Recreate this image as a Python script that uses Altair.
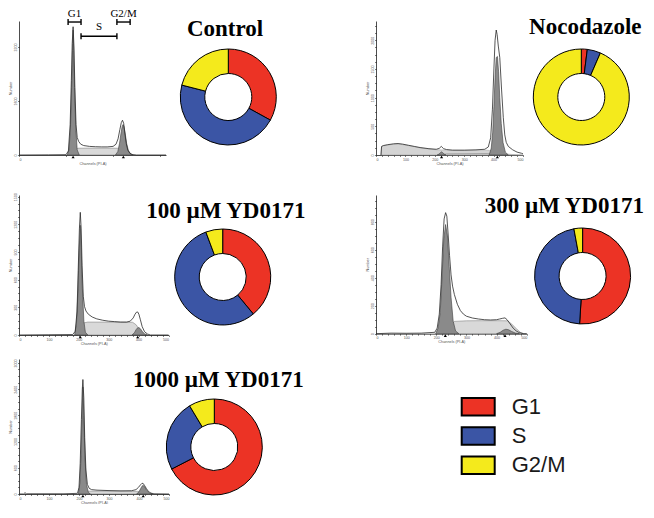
import altair as alt
import pandas as pd

# ---------------- data ----------------
PHASES = ["G1", "S", "G2/M"]
PHASE_COLORS = ["#EC3325", "#3B55A5", "#F4EA1C"]

TITLES = ["Control", "Nocodazole", "100 µM YD0171", "300 µM YD0171", "1000 µM YD0171"]

# cell-cycle distribution (%) G1, S, G2/M
PCT_CONTROL = [33.0, 46.0, 21.0]
PCT_NOCO = [2.0, 4.5, 93.5]
PCT_100 = [39.0, 55.3, 5.7]
PCT_300 = [51.0, 46.1, 2.9]
PCT_1000 = [67.4, 24.0, 8.6]

# Control histogram
ctrl_outline_ch = [0, 100, 160, 168, 174, 178, 181, 184, 187, 190, 194, 198, 203, 210, 220, 240, 260, 280, 300, 320, 330, 337, 343, 348, 352, 356, 360, 365, 370, 377, 385, 400, 500]
ctrl_outline_n = [0, 5, 10, 120, 900, 2200, 3300, 3800, 3200, 2000, 900, 520, 400, 320, 280, 255, 245, 240, 240, 255, 320, 480, 750, 960, 1030, 940, 650, 330, 150, 50, 15, 0, 0]
ctrl_g1_ch = [164, 170, 175, 179, 182, 184, 186, 189, 193, 198, 205]
ctrl_g1_n = [0, 150, 800, 2000, 3100, 3700, 3100, 2000, 800, 150, 0]
ctrl_s_ch = [182, 190, 200, 250, 300, 335, 345, 355, 362]
ctrl_s_n = [0, 120, 200, 205, 205, 200, 150, 40, 0]
ctrl_g2_ch = [328, 336, 342, 347, 351, 354, 357, 361, 366, 372, 380, 388]
ctrl_g2_n = [0, 100, 350, 650, 850, 900, 850, 650, 350, 130, 30, 0]
ctrl_marks = [184, 355]

# Nocodazole histogram
noc_outline_ch = [17, 19, 25, 40, 60, 75, 90, 110, 130, 150, 180, 205, 215, 222, 230, 240, 260, 300, 340, 370, 382, 390, 396, 401, 405, 409, 412, 416, 421, 427, 433, 438, 443, 450, 465, 480, 495, 500]
noc_outline_n = [0, 150, 165, 180, 195, 200, 190, 170, 150, 130, 110, 100, 115, 150, 110, 95, 85, 85, 90, 100, 140, 300, 800, 1500, 2000, 2180, 2100, 1900, 1700, 1150, 650, 350, 220, 150, 90, 50, 30, 20]
noc_debris_ch = [17, 19, 25, 40, 60, 75, 90, 110, 130, 150, 180, 205, 240, 260, 300, 340, 370, 385, 395, 410, 430, 460, 500]
noc_debris_n = [0, 145, 160, 175, 188, 192, 182, 165, 145, 125, 105, 92, 85, 80, 78, 80, 85, 80, 60, 40, 25, 10, 0]
noc_g1_ch = [208, 214, 219, 223, 227, 232, 238]
noc_g1_n = [0, 15, 40, 55, 40, 15, 0]
noc_s_ch = [222, 240, 300, 380, 400, 412]
noc_s_n = [0, 20, 22, 25, 15, 0]
noc_g2_ch = [385, 392, 397, 401, 405, 409, 413, 417, 421, 426, 432, 440, 450]
noc_g2_n = [0, 120, 400, 850, 1350, 1700, 1720, 1450, 1000, 550, 220, 50, 0]
noc_marks = [223, 413]

# 100 uM histogram
h100_outline_ch = [0, 100, 180, 188, 194, 198, 202, 205, 208, 211, 215, 219, 224, 232, 245, 260, 280, 300, 320, 340, 360, 372, 382, 388, 393, 397, 401, 406, 412, 420, 430, 440, 500]
h100_outline_n = [0, 3, 5, 40, 250, 700, 1150, 1330, 1150, 750, 420, 310, 260, 225, 195, 175, 160, 150, 145, 140, 140, 150, 185, 225, 248, 250, 225, 165, 90, 35, 10, 0, 0]
h100_g1_ch = [186, 192, 197, 201, 205, 208, 212, 217, 222, 230]
h100_g1_n = [0, 120, 450, 900, 1190, 950, 500, 150, 30, 0]
h100_s_ch = [198, 207, 215, 230, 300, 380, 392, 402, 412, 420]
h100_s_n = [0, 70, 130, 140, 140, 138, 110, 60, 15, 0]
h100_g2_ch = [378, 386, 392, 397, 401, 406, 412, 420, 430]
h100_g2_n = [0, 25, 60, 78, 80, 68, 40, 12, 0]
h100_marks = [205, 397]

# 300 uM histogram
h300_outline_ch = [0, 50, 100, 150, 195, 203, 210, 216, 221, 226, 231, 235, 239, 244, 249, 254, 260, 270, 280, 290, 300, 320, 340, 360, 380, 400, 410, 420, 428, 435, 445, 455, 465, 475, 490, 500]
h300_outline_n = [0, 4, 3, 4, 10, 40, 140, 350, 620, 820, 865, 840, 720, 560, 420, 340, 280, 210, 165, 140, 125, 112, 105, 100, 98, 100, 105, 110, 113, 100, 70, 40, 20, 8, 0, 0]
h300_g1_ch = [198, 206, 213, 219, 225, 231, 237, 243, 249, 256, 264, 275]
h300_g1_n = [0, 40, 150, 400, 680, 780, 700, 480, 260, 90, 20, 0]
h300_s_ch = [222, 235, 248, 260, 300, 350, 400, 437, 452, 466, 480, 490]
h300_s_n = [0, 25, 60, 88, 92, 93, 93, 92, 65, 35, 8, 0]
h300_g2_ch = [400, 412, 422, 431, 440, 450, 462, 476]
h300_g2_n = [0, 10, 25, 32, 28, 16, 5, 0]
h300_marks = [230, 428]

# 1000 uM histogram
h1k_outline_ch = [0, 15, 20, 25, 60, 150, 195, 200, 204, 208, 211, 213, 216, 219, 223, 228, 234, 242, 260, 300, 340, 375, 390, 398, 405, 410, 414, 419, 425, 432, 440, 450, 500]
h1k_outline_n = [0, 0, 30, 5, 5, 5, 15, 150, 700, 1700, 2400, 2620, 2200, 1300, 550, 220, 130, 100, 88, 78, 72, 75, 100, 150, 210, 245, 240, 190, 120, 55, 20, 5, 0]
h1k_g1_ch = [198, 203, 207, 210, 213, 216, 220, 225, 231, 238]
h1k_g1_n = [0, 250, 900, 1700, 2450, 1800, 800, 220, 40, 0]
h1k_s_ch = [205, 215, 225, 300, 395, 410, 425, 435]
h1k_s_n = [0, 40, 65, 65, 60, 40, 15, 0]
h1k_g2_ch = [392, 400, 406, 410, 414, 419, 426, 435, 445]
h1k_g2_n = [0, 50, 130, 180, 200, 160, 80, 20, 0]
h1k_marks = [213, 414]

# gate brackets drawn over the Control histogram
gate_names = ["G1", "S", "G2/M"]
gate_start = [167, 211, 333]
gate_end = [211, 333, 378]
gate_level = [3940, 3517, 3940]
gate_label_level = [4163, 3783, 4163]

# ---------------- helpers ----------------
LABEL_FONT = "Liberation Sans"


def df_of(ch, n):
    return pd.DataFrame({"ch": ch, "n": n})


def hist_chart(outline, g1, s, g2, marks, ymax, ystep, width, height, debris=None, gates=False):
    yt = ystep / 4
    yvals = [round(i * yt, 3) for i in range(int(ymax // yt) + 1)]
    xs = alt.Scale(domain=[0, 500], nice=False)
    ys = alt.Scale(domain=[0, ymax], nice=False)
    x_enc = alt.X("ch:Q", scale=xs,
                  axis=alt.Axis(values=list(range(0, 501, 20)),
                                labelExpr="datum.value % 100 === 0 ? datum.label : ''",
                                title="Channels (PI-A)", format="d"))
    y_enc = alt.Y("n:Q", stack=None, scale=ys,
                  axis=alt.Axis(values=yvals,
                                labelExpr="datum.value %% %d === 0 ? datum.label : ''" % ystep,
                                title="Number", format="d", labelAngle=270))
    layers = []
    if debris is not None:
        layers.append(alt.Chart(df_of(*debris)).mark_area(color="#d4d4d4", stroke="#9a9a9a", strokeWidth=0.5)
                      .encode(x=x_enc, y=y_enc))
    layers.append(alt.Chart(df_of(*s)).mark_area(color="#d9d9d9", stroke="#6e6e6e", strokeWidth=0.5)
                  .encode(x=x_enc, y=y_enc))
    layers.append(alt.Chart(df_of(*g1)).mark_area(color="#8a8a8a", stroke="#3c3c3c", strokeWidth=0.6)
                  .encode(x=x_enc, y=y_enc))
    layers.append(alt.Chart(df_of(*g2)).mark_area(color="#8a8a8a", stroke="#3c3c3c", strokeWidth=0.6)
                  .encode(x=x_enc, y=y_enc))
    layers.append(alt.Chart(df_of(*outline)).mark_line(color="#2a2a2a", strokeWidth=0.8)
                  .encode(x=x_enc, y=y_enc))
    layers.append(alt.Chart(pd.DataFrame({"ch": marks, "n": [0] * len(marks)}))
                  .mark_point(shape="triangle-up", filled=True, color="black", size=10, yOffset=2, opacity=1)
                  .encode(x=x_enc, y=y_enc))
    if gates:
        gdf = pd.DataFrame({"name": gate_names, "start": gate_start, "end": gate_end,
                            "level": gate_level, "lab": gate_label_level})
        gdf["mid"] = (gdf["start"] + gdf["end"]) / 2
        gdf["lo"] = gdf["level"] - 89
        gdf["hi"] = gdf["level"] + 89
        base = alt.Chart(gdf)
        layers.append(base.mark_rule(color="black", strokeWidth=1.4).encode(
            x=alt.X("start:Q", scale=xs), x2="end:Q", y=alt.Y("level:Q", scale=ys)))
        layers.append(base.mark_rule(color="black", strokeWidth=1.4).encode(
            x=alt.X("start:Q", scale=xs), y=alt.Y("lo:Q", scale=ys), y2="hi:Q"))
        layers.append(base.mark_rule(color="black", strokeWidth=1.4).encode(
            x=alt.X("end:Q", scale=xs), y=alt.Y("lo:Q", scale=ys), y2="hi:Q"))
        layers.append(base.mark_text(font="Liberation Serif", fontSize=11, baseline="middle", align="center",
                                     color="black").encode(
            x=alt.X("mid:Q", scale=xs), y=alt.Y("lab:Q", scale=ys), text="name:N"))
    return alt.layer(*layers).properties(width=width, height=height)


def donut_view(title, pct, cx, cy, tx, ty, width, height):
    df = pd.DataFrame({"phase": PHASES, "value": pct, "idx": [0, 1, 2]})
    arc = alt.Chart(df).mark_arc(innerRadius=23.5, outerRadius=48, stroke="black", strokeWidth=1).encode(
        theta=alt.Theta("value:Q", stack=True),
        color=alt.Color("phase:N", scale=alt.Scale(domain=PHASES, range=PHASE_COLORS), legend=None),
        order=alt.Order("idx:Q"),
        x=alt.value(cx), y=alt.value(cy))
    txt = alt.Chart(pd.DataFrame({"t": [title]})).mark_text(
        font="Liberation Serif", fontWeight="bold", fontSize=23, align="center", baseline="alphabetic",
        color="black").encode(text="t:N", x=alt.value(tx), y=alt.value(ty))
    return alt.layer(arc, txt).properties(width=width, height=height)


def legend_view(bx, ylo, yhi, width, height):
    ldf = pd.DataFrame({"phase": PHASES})
    yscale = alt.Scale(domain=PHASES, range=[ylo, yhi], paddingInner=0.4, paddingOuter=0)
    boxes = alt.Chart(ldf).mark_rect(stroke="black", strokeWidth=2).encode(
        y=alt.Y("phase:N", sort=PHASES, axis=None, scale=yscale),
        x=alt.value(bx), x2=alt.value(bx + 33),
        color=alt.Color("phase:N", scale=alt.Scale(domain=PHASES, range=PHASE_COLORS), legend=None))
    labels = alt.Chart(ldf).mark_text(align="left", baseline="middle", fontSize=22, font=LABEL_FONT,
                                      color="#1a1a1a").encode(
        y=alt.Y("phase:N", sort=PHASES, axis=None, scale=yscale),
        x=alt.value(bx + 50), text="phase:N")
    return alt.layer(boxes, labels).properties(width=width, height=height)


# ---------------- panels (grid: hist | donut | hist | donut) ----------------
W1, W3 = 207, 117
h1 = hist_chart((ctrl_outline_ch, ctrl_outline_n), (ctrl_g1_ch, ctrl_g1_n), (ctrl_s_ch, ctrl_s_n),
                (ctrl_g2_ch, ctrl_g2_n), ctrl_marks, 3970, 800, 147, 134, gates=True)
d1 = donut_view(TITLES[0], PCT_CONTROL, 59.3, 76, 56, 14.5, W1, 174)
h2 = hist_chart((noc_outline_ch, noc_outline_n), (noc_g1_ch, noc_g1_n), (noc_s_ch, noc_s_n),
                (noc_g2_ch, noc_g2_n), noc_marks, 2337, 500, 147, 134, debris=(noc_debris_ch, noc_debris_n))
d2 = donut_view(TITLES[1], PCT_NOCO, 54.3, 76, 58.3, 13.3, W3, 174)

h3 = hist_chart((h100_outline_ch, h100_outline_n), (h100_g1_ch, h100_g1_n), (h100_s_ch, h100_s_n),
                (h100_g2_ch, h100_g2_n), h100_marks, 1518, 300, 149.5, 140)
d3 = donut_view(TITLES[2], PCT_100, 53.7, 82, 56.8, 22.7, W1, 164)
h4 = hist_chart((h300_outline_ch, h300_outline_n), (h300_g1_ch, h300_g1_n), (h300_s_ch, h300_s_n),
                (h300_g2_ch, h300_g2_n), h300_marks, 991, 200, 150.7, 138.7)
d4 = donut_view(TITLES[3], PCT_300, 55.6, 81, 37.3, 17.7, W3, 164)

h5 = hist_chart((h1k_outline_ch, h1k_outline_n), (h1k_g1_ch, h1k_g1_n), (h1k_s_ch, h1k_s_n),
                (h1k_g2_ch, h1k_g2_n), h1k_marks, 3090, 600, 150, 135)
d5 = donut_view(TITLES[4], PCT_1000, 45.3, 88, 49.3, 27.7, W1, 135)
lg = legend_view(85.7, 39, 115, 150.7, 135)

RES = dict(x="independent", y="independent", theta="independent")
chart = alt.concat(h1, d1, h2, d2, h3, d3, h4, d4, h5, d5, lg,
                   columns=4, spacing=0, bounds="flush", align="each").resolve_scale(**RES).properties(
    padding=0, background="white"
).configure_view(stroke=None).configure_axis(
    grid=False, domainColor="black", domainWidth=0.7, tickColor="black", tickWidth=0.5, tickSize=1.5,
    labelFontSize=3.6, labelPadding=0.5, labelColor="#555", labelFont=LABEL_FONT,
    titleFontSize=3.8, titlePadding=0.5, titleColor="#555", titleFont=LABEL_FONT, titleFontWeight="normal",
)

chart.save("out.html", embed_options={"renderer": "svg", "actions": False})
